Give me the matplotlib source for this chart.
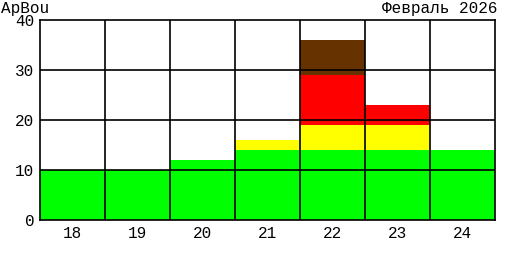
import matplotlib
matplotlib.use("Agg")
import matplotlib.pyplot as plt
import numpy as np

days = ["18", "19", "20", "21", "22", "23", "24"]
green = [10, 10, 12, 14, 14, 14, 14]
yellow = [0, 0, 0, 2, 5, 5, 0]
red = [0, 0, 0, 0, 10, 4, 0]
brown = [0, 0, 0, 0, 7, 0, 0]
yticks = [0, 10, 20, 30, 40]

W, H = 515, 260
fig = plt.figure(figsize=(W / 100, H / 100), dpi=100)
ax = fig.add_axes([40 / W, 40 / H, 455 / W, 200 / H])

font = "Liberation Mono"
fs = 11.5
x = np.arange(len(days))
bottom = np.zeros(len(days))
for vals, col in [(green, "#00ff00"), (yellow, "#ffff00"), (red, "#ff0000"), (brown, "#663300")]:
    v = np.array(vals, dtype=float)
    ax.bar(x, v, bottom=bottom, width=1.0, color=col, linewidth=0, zorder=1)
    bottom += v

ax.set_xlim(-0.5, len(days) - 0.5)
ax.set_ylim(0, 40)
for b in np.arange(0.5, len(days) - 0.5, 1):
    ax.axvline(b, color="black", lw=1.2, zorder=3)
for t in yticks[1:-1]:
    ax.axhline(t, color="black", lw=1.2, zorder=3)
for s in ax.spines.values():
    s.set_linewidth(1.2)
    s.set_zorder(4)

ax.set_xticks(x)
ax.set_xticklabels(days, fontfamily=font, fontsize=fs)
ax.set_yticks(yticks)
ax.set_yticklabels([str(t) for t in yticks], fontfamily=font, fontsize=fs)
ax.tick_params(length=0, pad=4, colors="black")

fig.text(1 / W, 1 - 12.5 / H, "ApBou", ha="left", va="baseline", fontfamily=font, fontsize=fs)
fig.text(1 - 17 / W, 1 - 12.5 / H, "Февраль 2026", ha="right", va="baseline", fontfamily=font, fontsize=fs)

fig.savefig("out.png", dpi=100, facecolor="white")
